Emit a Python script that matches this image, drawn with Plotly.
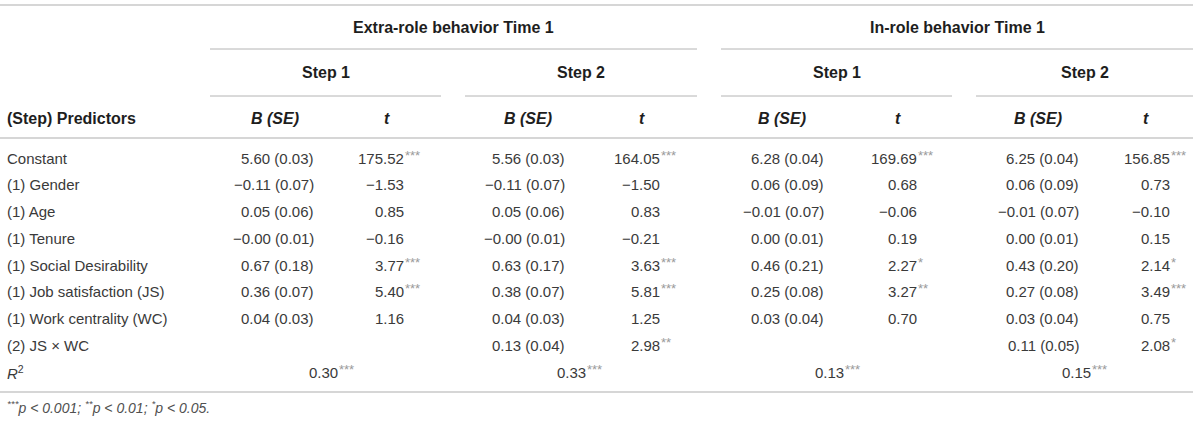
import plotly.graph_objects as go

# Regression table: extra-role / in-role behaviour at Time 1
predictors = [
    "Constant",
    "(1) Gender",
    "(1) Age",
    "(1) Tenure",
    "(1) Social Desirability",
    "(1) Job satisfaction (JS)",
    "(1) Work centrality (WC)",
    "(2) JS × WC",
]

extra_s1_b = [5.60, -0.11, 0.05, -0.00, 0.67, 0.36, 0.04, None]
extra_s1_se = [0.03, 0.07, 0.06, 0.01, 0.18, 0.07, 0.03, None]
extra_s1_t = [175.52, -1.53, 0.85, -0.16, 3.77, 5.40, 1.16, None]
extra_s1_sig = ["***", "", "", "", "***", "***", "", ""]

extra_s2_b = [5.56, -0.11, 0.05, -0.00, 0.63, 0.38, 0.04, 0.13]
extra_s2_se = [0.03, 0.07, 0.06, 0.01, 0.17, 0.07, 0.03, 0.04]
extra_s2_t = [164.05, -1.50, 0.83, -0.21, 3.63, 5.81, 1.25, 2.98]
extra_s2_sig = ["***", "", "", "", "***", "***", "", "**"]

in_s1_b = [6.28, 0.06, -0.01, 0.00, 0.46, 0.25, 0.03, None]
in_s1_se = [0.04, 0.09, 0.07, 0.01, 0.21, 0.08, 0.04, None]
in_s1_t = [169.69, 0.68, -0.06, 0.19, 2.27, 3.27, 0.70, None]
in_s1_sig = ["***", "", "", "", "*", "**", "", ""]

in_s2_b = [6.25, 0.06, -0.01, 0.00, 0.43, 0.27, 0.03, 0.11]
in_s2_se = [0.04, 0.09, 0.07, 0.01, 0.20, 0.08, 0.04, 0.05]
in_s2_t = [156.85, 0.73, -0.10, 0.15, 2.14, 3.49, 0.75, 2.08]
in_s2_sig = ["***", "", "", "", "*", "***", "", "*"]

r_squared = [0.30, 0.33, 0.13, 0.15]
r_squared_sig = ["***", "***", "***", "***"]

group_titles = ["Extra-role behavior Time 1", "In-role behavior Time 1"]
step_titles = ["Step 1", "Step 2", "Step 1", "Step 2"]
footnote = "<i><sup>***</sup>p &lt; 0.001; <sup>**</sup>p &lt; 0.01; <sup>*</sup>p &lt; 0.05.</i>"

# layout (pixel positions on the 1200 x 422 canvas)
W, H = 1200, 422
FONT = "Liberation Sans"
TXT = "#3a3a3a"
HEAD = "#1e1e1e"
STAR = "#9a9a9a"
LEFT = 7
ROW0, PITCH = 158, 26.75
B_RIGHT = [314, 565, 824, 1079]
T_RIGHT = [404, 660, 917, 1170]
B_HEAD = [275, 528, 782, 1038]
T_HEAD = [387, 642, 898, 1146]
R2_RIGHT = [338, 586, 844, 1091]
STEP_SPAN = [(210, 441), (465, 697), (721, 952), (976, 1193)]
GROUP_SPAN = [(210, 697), (721, 1193)]

steps = [
    (extra_s1_b, extra_s1_se, extra_s1_t, extra_s1_sig),
    (extra_s2_b, extra_s2_se, extra_s2_t, extra_s2_sig),
    (in_s1_b, in_s1_se, in_s1_t, in_s1_sig),
    (in_s2_b, in_s2_se, in_s2_t, in_s2_sig),
]


def fmt(v):
    return f"{v:.2f}".replace("-", "\u2212")


fig = go.Figure()
fig.add_trace(go.Scatter(x=[0, W], y=[0, H], mode="markers", marker=dict(opacity=0), hoverinfo="skip"))

ann = []


def text(x, y, s, anchor="left", size=15, color=TXT, bold=False, shift=0):
    ann.append(dict(
        x=x, y=y, xref="x", yref="y", text=s, showarrow=False,
        xanchor=anchor, yanchor="middle", yshift=shift, borderpad=0, borderwidth=0,
        font=dict(family=FONT, size=size, color=color, weight="bold" if bold else "normal"),
    ))


# header rows
for title, (a, b) in zip(group_titles, GROUP_SPAN):
    text((a + b) / 2, 27, title, "center", 16, HEAD, True)
for title, (a, b) in zip(step_titles, STEP_SPAN):
    text((a + b) / 2, 72, title, "center", 16, HEAD, True)
text(LEFT, 118, "(Step) Predictors", "left", 16, HEAD, True)
for k in range(4):
    text(B_HEAD[k], 118, "<i>B (SE)</i>", "center", 16, HEAD, True)
    text(T_HEAD[k], 118, "<i>t</i>", "center", 16, HEAD, True)

# body
for i, name in enumerate(predictors):
    y = ROW0 + i * PITCH
    text(LEFT, y, name)
    for k, (bv, sev, tv, sig) in enumerate(steps):
        if bv[i] is None:
            continue
        text(B_RIGHT[k], y, f"{fmt(bv[i])} ({fmt(sev[i])})", "right")
        text(T_RIGHT[k], y, fmt(tv[i]), "right")
        if sig[i]:
            text(T_RIGHT[k] + 1, y, sig[i], "left", 13, STAR, shift=3)

y_r2 = ROW0 + len(predictors) * PITCH
text(LEFT, y_r2, "<i>R</i><sup>2</sup>")
for k, v in enumerate(r_squared):
    text(R2_RIGHT[k], y_r2, fmt(v), "right")
    text(R2_RIGHT[k] + 1, y_r2, r_squared_sig[k], "left", 13, STAR, shift=3)

text(LEFT, 407, footnote, "left", 14, "#505050")

# rules
shapes = []
for yy in (5, 138, 392):
    shapes.append(dict(type="line", xref="x", yref="y", x0=0, x1=1193, y0=yy, y1=yy,
                       line=dict(color="#d6d6d6", width=2)))
for a, b in GROUP_SPAN:
    shapes.append(dict(type="line", xref="x", yref="y", x0=a, x1=b, y0=49, y1=49,
                       line=dict(color="#b4b4b4", width=1)))
for a, b in STEP_SPAN:
    shapes.append(dict(type="line", xref="x", yref="y", x0=a, x1=b, y0=96, y1=96,
                       line=dict(color="#b4b4b4", width=1)))

fig.update_layout(
    width=W, height=H,
    margin=dict(l=0, r=0, t=0, b=0),
    paper_bgcolor="white", plot_bgcolor="white",
    showlegend=False,
    xaxis=dict(range=[0, W], visible=False, fixedrange=True),
    yaxis=dict(range=[H, 0], visible=False, fixedrange=True),
    annotations=ann,
    shapes=shapes,
)

# drop the default 8px body margin so the figure sits flush in the window
fig.write_html("out.html", config={"displayModeBar": False},
               post_script="document.body.style.margin = '0';")
